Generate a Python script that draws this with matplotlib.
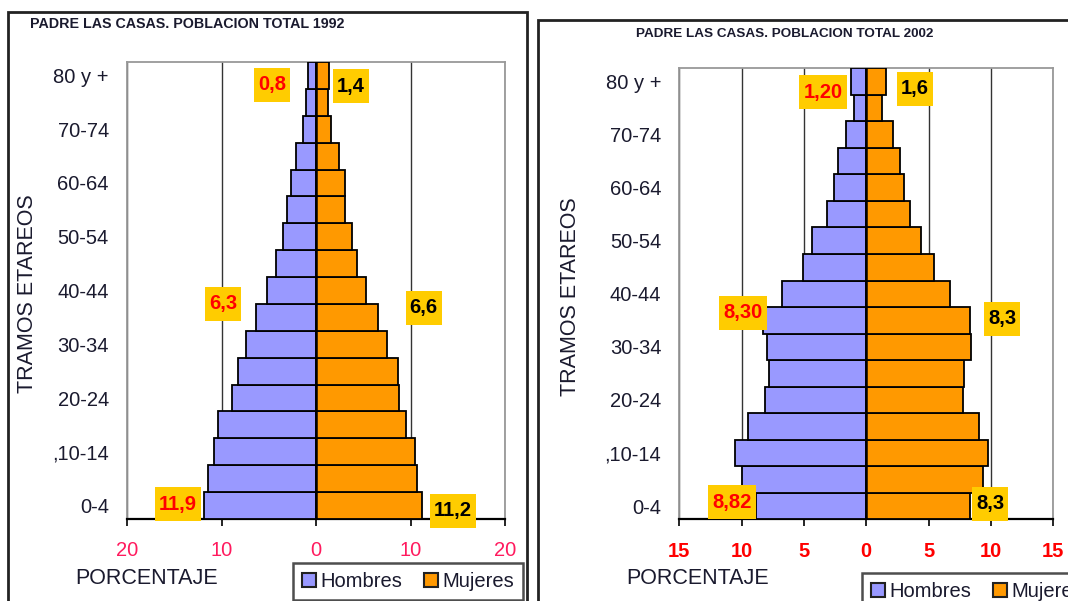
import matplotlib
matplotlib.use("Agg")
import matplotlib.pyplot as plt
from matplotlib.patches import Rectangle, Patch
from matplotlib.path import Path

plt.rcParams['font.family'] = ['Liberation Sans', 'DejaVu Sans']

# ---------------- data ----------------
categories = ['0-4', '5-9', ',10-14', '15-19', '20-24', '25-29', '30-34', '35-39',
              '40-44', '45-49', '50-54', '55-59', '60-64', '65-69', '70-74', '75-79', '80 y +']

hombres_1992 = [11.9, 11.4, 10.8, 10.4, 8.9, 8.3, 7.4, 6.3, 5.2, 4.2, 3.5, 3.05, 2.6, 2.1, 1.35, 1.05, 0.8]
mujeres_1992 = [11.2, 10.7, 10.45, 9.5, 8.8, 8.65, 7.55, 6.6, 5.3, 4.3, 3.8, 3.05, 3.05, 2.4, 1.6, 1.25, 1.4]

hombres_2002 = [8.82, 10.0, 10.5, 9.5, 8.1, 7.8, 7.95, 8.3, 6.8, 5.1, 4.35, 3.15, 2.6, 2.3, 1.65, 1.0, 1.2]
mujeres_2002 = [8.3, 9.35, 9.75, 9.05, 7.75, 7.85, 8.4, 8.3, 6.75, 5.45, 4.35, 3.5, 3.0, 2.7, 2.15, 1.3, 1.6]

xticks_1992 = [-20, -10, 0, 10, 20]
xticklabels_1992 = ['20', '10', '0', '10', '20']
xticks_2002 = [-15, -10, -5, 0, 5, 10, 15]
xticklabels_2002 = ['15', '10', '5', '0', '5', '10', '15']

title_1992 = 'PADRE LAS CASAS. POBLACION TOTAL 1992'
title_2002 = 'PADRE LAS CASAS. POBLACION TOTAL 2002'

# annotation labels: (text, x position in data units, category position, colour)
notes_1992 = [('0,8', -4.65, 15.65, 'red'), ('1,4', 3.7, 15.6, 'black'),
              ('6,3', -9.8, 7.5, 'red'), ('6,6', 11.4, 7.35, 'black'),
              ('11,9', -14.6, 0.05, 'red'), ('11,2', 14.5, -0.2, 'black')]
notes_2002 = [('1,20', -3.47, 15.6, 'red'), ('1,6', 3.9, 15.72, 'black'),
              ('8,30', -9.9, 7.28, 'red'), ('8,3', 10.9, 7.06, 'black'),
              ('8,82', -10.78, 0.15, 'red'), ('8,3', 9.93, 0.08, 'black')]

C_H = '#9999FF'
C_M = '#FF9900'
C_BOX = '#FFCC00'
TXT = '#1a1a2e'

W, H = 1068, 601
fig = plt.figure(figsize=(W / 100, H / 100), dpi=100)


def fy(y):
    return 1 - y / H


def tallbox(x0, y0, width, height, mutation_size):
    px = 0.2 * mutation_size
    py = 0.38 * mutation_size
    x1, y1 = x0 - px, y0 - py
    x2, y2 = x0 + width + px, y0 + height + py
    return Path([(x1, y1), (x2, y1), (x2, y2), (x1, y2), (x1, y1)], closed=True)


# panel frames
fig.add_artist(Rectangle((8 / W, fy(640)), (527 - 8) / W, (640 - 12) / H,
                         transform=fig.transFigure, fill=False, ec='#222222', lw=2))
fig.add_artist(Rectangle((538 / W, fy(640)), (1100 - 538) / W, (640 - 20) / H,
                         transform=fig.transFigure, fill=False, ec='#222222', lw=2))


def pyramid(rect, hom, muj, xlim, xticks, xticklabels, notes, tickcolor, tickweight):
    ax = fig.add_axes(rect)
    y = list(range(len(categories)))
    ax.barh(y, [-v for v in hom], height=1.0, color=C_H, edgecolor='black', lw=1.3, zorder=3)
    ax.barh(y, muj, height=1.0, color=C_M, edgecolor='black', lw=1.3, zorder=3)
    ax.axvline(0, color='black', lw=1.8, zorder=4)
    ax.set_xlim(*xlim)
    ax.set_ylim(-0.5, len(categories) - 0.5)
    ax.set_xticks(xticks)
    ax.set_xticklabels(xticklabels, color=tickcolor, fontsize=14.5, fontweight=tickweight)
    ax.set_yticks(y[::2])
    ax.set_yticklabels(categories[::2], fontsize=14.5, color=TXT)
    ax.tick_params(axis='y', length=0, pad=13)
    ax.tick_params(axis='x', direction='out', length=5, width=1.2, pad=11)
    ax.set_axisbelow(True)
    ax.grid(axis='x', color='#333333', lw=1.0)
    for s in ['top', 'right', 'left']:
        ax.spines[s].set_color('#999999')
        ax.spines[s].set_linewidth(1.3)
    ax.spines['bottom'].set_color('black')
    ax.spines['bottom'].set_linewidth(1.6)
    for txt, xx, yy, col in notes:
        ax.text(xx, yy, txt, ha='center', va='center', fontsize=14.5,
                color=col, fontweight='bold', zorder=6,
                bbox=dict(boxstyle=tallbox, fc=C_BOX, ec='none'))
    return ax


ax1 = pyramid([127 / W, (H - 519) / H, 378 / W, 457 / H], hombres_1992, mujeres_1992,
              (-20, 20), xticks_1992, xticklabels_1992, notes_1992, '#FF1A5E', 'normal')
ax2 = pyramid([679.4 / W, (H - 519.3) / H, 373.8 / W, 451 / H], hombres_2002, mujeres_2002,
              (-15, 15), xticks_2002, xticklabels_2002, notes_2002, '#FF0000', 'bold')

# titles
fig.text(30 / W, fy(24), title_1992, ha='left', va='center', fontsize=10.3,
         fontweight='bold', color=TXT)
fig.text(785 / W, fy(34), title_2002, ha='center', va='center', fontsize=9.7,
         fontweight='bold', color=TXT)

# axis titles
fig.text(147 / W, fy(578), 'PORCENTAJE', ha='center', va='center', fontsize=15.5, color=TXT)
fig.text(698 / W, fy(579), 'PORCENTAJE', ha='center', va='center', fontsize=15.5, color=TXT)
fig.text(28 / W, fy(294), 'TRAMOS ETAREOS', ha='center', va='center', rotation=90,
         fontsize=15.5, color=TXT)
fig.text(570 / W, fy(297), 'TRAMOS ETAREOS', ha='center', va='center', rotation=90,
         fontsize=15.5, color=TXT)

# legends
handles = [Patch(fc=C_H, ec='#222222', lw=1.5), Patch(fc=C_M, ec='#222222', lw=1.5)]
for x0, y0 in [(293, 563), (862, 573)]:
    leg = fig.legend(handles, ['Hombres', 'Mujeres'], loc='upper left',
                     bbox_to_anchor=(x0 / W, fy(y0)), bbox_transform=fig.transFigure,
                     ncol=2, fontsize=14.5, frameon=True, fancybox=False,
                     handlelength=0.7, handleheight=0.7, handletextpad=0.2,
                     columnspacing=1.1, borderpad=0.45, borderaxespad=0)
    leg.get_frame().set_edgecolor('#222222')
    leg.get_frame().set_linewidth(1.8)
    for t in leg.get_texts():
        t.set_color(TXT)

fig.savefig('out.png', dpi=100)
